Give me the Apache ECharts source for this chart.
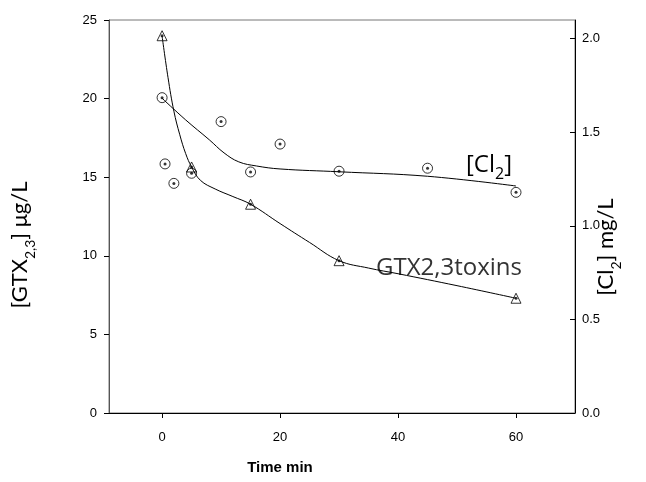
<!DOCTYPE html>
<html>
<head>
<meta charset="utf-8">
<script src="https://cdn.jsdelivr.net/npm/echarts@6/dist/echarts.min.js"></script>
<style>
  html, body { margin: 0; padding: 0; background: #fff; }
  #chart { width: 646px; height: 482px; }
</style>
</head>
<body>
<div id="chart"></div>
<script>
// Free chlorine measurements (right axis, mg/L)
const cl2Time = [0, 0.5, 2, 5, 10, 15, 20, 30, 45, 60];
const cl2Values = [1.685, 1.331, 1.227, 1.281, 1.557, 1.288, 1.437, 1.292, 1.308, 1.179];

// GTX2,3 toxin measurements (left axis, µg/L)
const gtxTime = [0, 5, 15, 30, 60];
const gtxValues = [24.0, 15.65, 13.28, 9.69, 7.30];

// Fitted decay curves
const cl2FitTime = [0, 4, 8, 10.5, 13, 16, 20, 30, 45, 60];
const cl2FitValues = [1.682, 1.566, 1.460, 1.390, 1.342, 1.320, 1.304, 1.289, 1.265, 1.213];
const gtxFitTime = [0, 1, 2, 3, 4, 5, 6.5, 9, 12, 15, 20, 25, 30, 35, 40, 50, 60];
const gtxFitValues = [23.98, 21.35, 19.2, 17.7, 16.5, 15.65, 14.8, 14.25, 13.77, 13.28, 12.05, 10.85, 9.69, 9.22, 8.86, 8.1, 7.30];

// Axis tick positions
const xTicks = [0, 20, 40, 60];
const rightTicks = [0, 0.5, 1.0, 1.5, 2.0];

const zip = (xs, ys) => xs.map((x, i) => [x, ys[i]]);

const tickFont = { fontFamily: 'Liberation Sans, Arial, sans-serif', fontSize: 13, color: '#000' };
const titleFont = 'Lato, "Open Sans", sans-serif';
const labelFont = '"Open Sans", Lato, sans-serif';

const chart = echarts.init(document.getElementById('chart'), null, { renderer: 'canvas' });

chart.setOption({
  animation: false,
  backgroundColor: '#fff',
  grid: {
    left: 109, right: 71, top: 20, bottom: 69,
    show: true, borderColor: '#777', borderWidth: 1, backgroundColor: 'transparent'
  },
  xAxis: {
    type: 'value',
    min: -9, max: 70,
    splitLine: { show: false },
    axisLine: { onZero: false, lineStyle: { color: '#000', width: 1 } },
    axisTick: { length: 5, lineStyle: { color: '#000' }, customValues: xTicks },
    axisLabel: Object.assign({ margin: 18, customValues: xTicks }, tickFont)
  },
  yAxis: [
    {
      type: 'value',
      min: 0, max: 25, interval: 5,
      position: 'left',
      splitLine: { show: false },
      axisLine: { show: true, onZero: false, lineStyle: { color: '#555', width: 1 } },
      axisTick: { show: true, length: 5, lineStyle: { color: '#000' } },
      axisLabel: Object.assign({ margin: 12 }, tickFont)
    },
    {
      type: 'value',
      min: 0, max: 2.1,
      position: 'right',
      splitLine: { show: false },
      axisLine: { show: true, onZero: false, lineStyle: { color: '#000', width: 1 } },
      axisTick: { show: true, inside: true, length: 5, lineStyle: { color: '#000' }, customValues: rightTicks },
      axisLabel: Object.assign({ margin: 7, customValues: rightTicks, formatter: v => v.toFixed(1) }, tickFont)
    }
  ],
  series: [
    {
      name: 'Cl2 fit', type: 'line', yAxisIndex: 1, smooth: 0.4, showSymbol: false,
      lineStyle: { color: '#000', width: 1 }, data: zip(cl2FitTime, cl2FitValues), z: 2
    },
    {
      name: 'GTX fit', type: 'line', yAxisIndex: 0, smooth: 0.4, showSymbol: false,
      lineStyle: { color: '#000', width: 1 }, data: zip(gtxFitTime, gtxFitValues), z: 2
    },
    {
      name: 'Cl2', type: 'scatter', yAxisIndex: 1, symbol: 'circle', symbolSize: 10,
      itemStyle: { color: 'rgba(255,255,255,0)', borderColor: '#000', borderWidth: 1 },
      data: zip(cl2Time, cl2Values), z: 3
    },
    {
      name: 'Cl2 centre', type: 'scatter', yAxisIndex: 1, symbol: 'circle', symbolSize: 3,
      itemStyle: { color: '#000' }, data: zip(cl2Time, cl2Values), z: 4
    },
    {
      name: 'GTX', type: 'scatter', yAxisIndex: 0, symbol: 'triangle', symbolSize: 10,
      itemStyle: { color: 'rgba(255,255,255,0)', borderColor: '#000', borderWidth: 1 },
      data: zip(gtxTime, gtxValues), z: 3
    },
    {
      name: 'GTX centre', type: 'scatter', yAxisIndex: 0, symbol: 'circle', symbolSize: 3,
      itemStyle: { color: '#000' }, data: zip(gtxTime, gtxValues), z: 4
    }
  ],
  graphic: [
    {
      type: 'text', x: 280, y: 468,
      style: { text: 'Time min', align: 'center', verticalAlign: 'middle',
               font: 'bold 15px "Liberation Sans", Arial, sans-serif', fill: '#000' }
    },
    {
      type: 'text', x: 489, y: 168,
      style: {
        text: '{a|[Cl}{s|2}{a|]}', align: 'center', verticalAlign: 'middle',
        rich: {
          a: { fontFamily: labelFont, fontSize: 24, color: '#333', lineHeight: 29, verticalAlign: 'top' },
          s: { fontFamily: labelFont, fontSize: 16, color: '#333', lineHeight: 18, verticalAlign: 'bottom' }
        }
      }
    },
    {
      type: 'text', x: 449, y: 268,
      style: {
        text: 'GTX2,3toxins', align: 'center', verticalAlign: 'middle',
        font: '24px ' + labelFont, fill: '#333'
      }
    },
    {
      type: 'text', x: 23, y: 245, rotation: Math.PI / 2,
      style: {
        text: '{a|[GTX}{s|2,3}{a|] μg/L}', align: 'center', verticalAlign: 'middle',
        rich: {
          a: { fontFamily: titleFont, fontSize: 22, color: '#222', lineHeight: 28, verticalAlign: 'top' },
          s: { fontFamily: titleFont, fontSize: 14, color: '#222', lineHeight: 16, verticalAlign: 'bottom' }
        }
      }
    },
    {
      type: 'text', x: 609, y: 247, rotation: Math.PI / 2,
      style: {
        text: '{a|[Cl}{s|2}{a|] mg/L}', align: 'center', verticalAlign: 'middle',
        rich: {
          a: { fontFamily: titleFont, fontSize: 22, color: '#222', lineHeight: 28, verticalAlign: 'top' },
          s: { fontFamily: titleFont, fontSize: 14, color: '#222', lineHeight: 16, verticalAlign: 'bottom' }
        }
      }
    }
  ]
});
</script>
</body>
</html>
